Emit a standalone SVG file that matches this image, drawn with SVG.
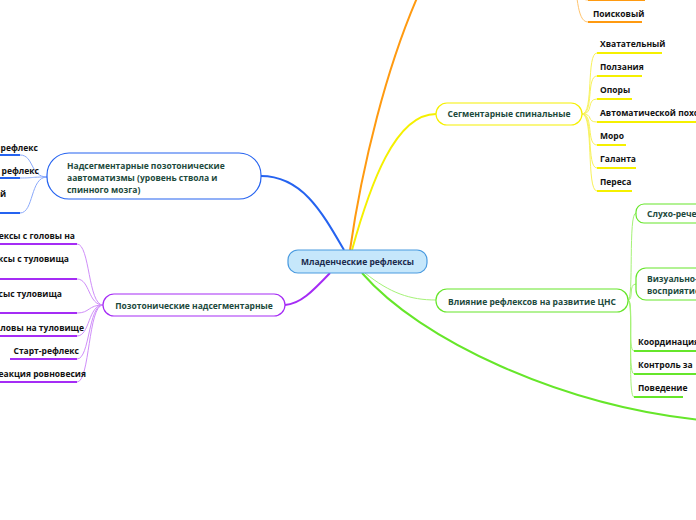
<svg xmlns="http://www.w3.org/2000/svg" width="696" height="520" viewBox="0 0 696 520">
<style>
text{font-family:"Open Sans","Noto Sans","DejaVu Sans",sans-serif;font-weight:bold;font-size:8.5px}
.nt{fill:#1c4a3c}
.ct{fill:#1b2a4d}
.lt{fill:#111}
.node{fill:#fff;stroke-width:1.2}
.c{fill:none}
.ub{stroke:#2563f0;stroke-width:2}
.up{stroke:#a52cf5;stroke-width:2}
.uy{stroke:#f5f000;stroke-width:2}
.uo{stroke:#ff9a10;stroke-width:2}
.ug{stroke:#66e62a;stroke-width:2}
.lb{stroke:#8aa9fb;stroke-width:1}
.lp{stroke:#cf8ef9;stroke-width:1}
.ly{stroke:#f8f25a;stroke-width:1}
.lo{stroke:#ffc46e;stroke-width:1}
.lg{stroke:#a5f277;stroke-width:1}
</style>
<rect width="696" height="520" fill="#fff"/>
<g id="connectors" class="c">
  <path class="ub" d="M 344 250 C 322 212, 302 176, 261 176" stroke-width="1.5"/>
  <path class="up" d="M 330 273 C 312 292, 300 304, 285 305" stroke-width="1.5"/>
  <path class="uo" d="M 350 250 C 360 180, 385 60, 430 -30" stroke-width="1.5"/>
  <path class="uy" d="M 352 250 C 370 185, 395 114, 436 114" stroke-width="1.5"/>
  <path class="lg" d="M 365 273 C 390 293, 410 300, 436 300" stroke-width="1.2"/>
  <path class="ug" d="M 362 273 C 420 340, 560 405, 700 420" stroke-width="1.5"/>
  <!-- blue children -->
  <path class="lb" d="M 47 177 C 30 177, 34 155, 20 155"/>
  <path class="lb" d="M 47 177 C 30 177, 34 178, 20 178"/>
  <path class="lb" d="M 47 177 C 30 177, 34 213, 20 213"/>
  <path class="ub" d="M 0 155 L 20 155 M 0 178 L 20 178 M 0 213 L 20 213"/>
  <!-- purple children -->
  <path class="lp" d="M 103 305 C 88 305, 90 244, 77 244"/>
  <path class="lp" d="M 103 305 C 88 305, 90 279, 77 279"/>
  <path class="lp" d="M 103 305 C 88 305, 90 313, 77 313"/>
  <path class="lp" d="M 103 305 C 88 305, 90 336, 77 336"/>
  <path class="lp" d="M 103 305 C 88 305, 90 359, 77 359"/>
  <path class="lp" d="M 103 305 C 88 305, 90 382, 77 382"/>
  <path class="up" d="M 0 244 L 77 244 M 0 279 L 77 279 M 0 313 L 77 313 M 0 336 L 77 336 M 10 359 L 77 359 M 0 382 L 77 382"/>
  <!-- yellow children -->
  <path class="ly" d="M 582 114 C 594 114, 586 53, 597 53"/>
  <path class="ly" d="M 582 114 C 594 114, 586 76, 597 76"/>
  <path class="ly" d="M 582 114 C 594 114, 586 99, 597 99"/>
  <path class="ly" d="M 582 114 C 594 114, 586 122, 597 122"/>
  <path class="ly" d="M 582 114 C 594 114, 586 145, 597 145"/>
  <path class="ly" d="M 582 114 C 594 114, 586 168, 597 168"/>
  <path class="ly" d="M 582 114 C 594 114, 586 191, 597 191"/>
  <path class="uy" d="M 597 53 L 662 53 M 597 76 L 642 76 M 597 99 L 632 99 M 597 122 L 700 122 M 597 145 L 626 145 M 597 168 L 636 168 M 597 191 L 632 191"/>
  <!-- orange children -->
  <path class="lo" d="M 572 -30 C 578 -10, 576 22, 588 22"/>
  <path class="lo" d="M 572 -30 C 578 -10, 578 0, 588 0"/>
  <path class="uo" d="M 588 22 L 642 22 M 588 0 L 645 0"/>
  <!-- green children -->
  <path class="lg" d="M 628 300 C 634 300, 628 213, 636 213"/>
  <path class="lg" d="M 628 300 C 634 300, 628 284, 636 284"/>
  <path class="lg" d="M 628 300 C 634 300, 627 351, 634 351"/>
  <path class="lg" d="M 628 300 C 634 300, 627 374, 634 374"/>
  <path class="lg" d="M 628 300 C 634 300, 627 397, 634 397"/>
  <path class="ug" d="M 634 351 L 700 351 M 634 374 L 700 374 M 634 397 L 683 397"/>
</g>
<g id="central">
  <rect x="288" y="250" width="139" height="23" rx="10" fill="#c6e7fb" stroke="#4a9be0" stroke-width="1.2"/>
  <text class="ct" x="357.5" y="265" text-anchor="middle">Младенческие рефлексы</text>
</g>
<g id="n-nadseg">
  <rect class="node" x="47" y="153" width="214" height="46" rx="22" stroke="#2563f0"/>
  <text class="nt" x="67" y="169">Надсегментарные позотонические</text>
  <text class="nt" x="67" y="181">аавтоматизмы (уровень ствола и</text>
  <text class="nt" x="67" y="193">спинного мозга)</text>
</g>
<g id="n-nadseg-c1"><text class="lt" x="38" y="151" text-anchor="end">рефлекс</text></g>
<g id="n-nadseg-c2"><text class="lt" x="39" y="174" text-anchor="end">рефлекс</text></g>
<g id="n-nadseg-c3"><text class="lt" x="6" y="197" text-anchor="end">й</text></g>
<g id="n-pozo">
  <rect class="node" x="103" y="294" width="182" height="22" rx="11" stroke="#a52cf5"/>
  <text class="nt" x="194" y="309" text-anchor="middle">Позотонические надсегментарные</text>
</g>
<g id="n-pozo-c1"><text class="lt" x="75" y="239" text-anchor="end">ексы с головы на</text></g>
<g id="n-pozo-c2"><text class="lt" x="69" y="262" text-anchor="end">ксы с туловища</text></g>
<g id="n-pozo-c3"><text class="lt" x="62" y="297" text-anchor="end">сыс  туловища</text></g>
<g id="n-pozo-c4"><text class="lt" x="84" y="331" text-anchor="end">ловы на туловище</text></g>
<g id="n-pozo-c5"><text class="lt" x="79" y="354" text-anchor="end">Старт-рефлекс</text></g>
<g id="n-pozo-c6"><text class="lt" x="86" y="377" text-anchor="end">еакция ровновесия</text></g>
<g id="n-segm">
  <rect class="node" x="436" y="103" width="146" height="22" rx="11" stroke="#f5f000"/>
  <text class="nt" x="509" y="117" text-anchor="middle">Сегментарные спинальные</text>
</g>
<g id="n-segm-c1"><text class="lt" x="600" y="47">Хватательный</text></g>
<g id="n-segm-c2"><text class="lt" x="600" y="70">Ползания</text></g>
<g id="n-segm-c3"><text class="lt" x="600" y="93">Опоры</text></g>
<g id="n-segm-c4"><text class="lt" x="600" y="116">Автоматической похо</text></g>
<g id="n-segm-c5"><text class="lt" x="600" y="139">Моро</text></g>
<g id="n-segm-c6"><text class="lt" x="600" y="162">Галанта</text></g>
<g id="n-segm-c7"><text class="lt" x="600" y="185">Переса</text></g>
<g id="n-orange-c1"><text class="lt" x="593" y="17">Поисковый</text></g>
<g id="n-vliyanie">
  <rect class="node" x="436" y="289" width="192" height="23" rx="11" stroke="#66e62a"/>
  <text class="nt" x="532" y="305" text-anchor="middle">Влияние рефлексов на развитие ЦНС</text>
</g>
<g id="n-vl-c1">
  <rect class="node" x="636" y="204" width="80" height="19" rx="8" stroke="#66e62a"/>
  <text class="nt" x="647" y="217">Слухо-рече</text>
</g>
<g id="n-vl-c2">
  <rect class="node" x="636" y="268" width="80" height="32" rx="10" stroke="#66e62a"/>
  <text class="nt" x="647" y="282">Визуально-</text>
  <text class="nt" x="647" y="294">восприятие</text>
</g>
<g id="n-vl-c3"><text class="lt" x="638" y="345">Координация</text></g>
<g id="n-vl-c4"><text class="lt" x="638" y="368">Контроль за</text></g>
<g id="n-vl-c5"><text class="lt" x="638" y="391">Поведение</text></g>
</svg>
